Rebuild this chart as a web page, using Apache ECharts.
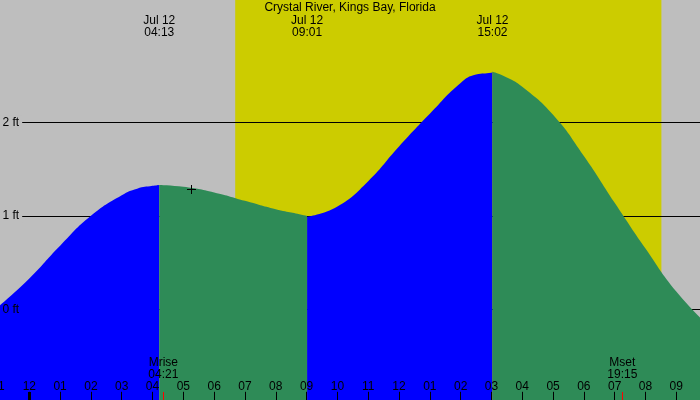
<!DOCTYPE html>
<html>
<head>
<meta charset="utf-8">
<script src="https://cdn.jsdelivr.net/npm/echarts@6/dist/echarts.min.js"></script>
<style>
  html, body { margin: 0; padding: 0; background: #bebebe; }
  #chart-container { width: 700px; height: 400px; }
</style>
</head>
<body>
<div id="chart-container"></div>
<script>
var title = 'Crystal River, Kings Bay, Florida';
var eventDate = 'Jul 12';

// tide heights (ft), hour -1 = 11 pm the day before
var tideHours = [-1, 0, 1, 2, 3, 3.5, 4, 5, 6, 7, 8, 9, 10, 11, 12, 13, 14, 14.5, 15, 15.5, 16, 17, 18, 19, 20, 21, 22];
var tideFeet = [0.03, 0.33, 0.68, 1.00, 1.22, 1.29, 1.32, 1.31, 1.25, 1.16, 1.07, 1.00, 1.10,
                1.37, 1.74, 2.09, 2.42, 2.51, 2.53, 2.48, 2.38, 2.08, 1.64, 1.14, 0.65, 0.19, -0.16];

// high / low water
var extremeTimes = ['04:13', '09:01', '15:02'];
var extremeFeet = [1.33, 0.99, 2.54];

var sunTimes = ['06:41', '20:31'];
var moonNames = ['Mrise', 'Mset'];
var moonTimes = ['04:21', '19:15'];

var nowTime = '05:15';
var nowFeet = 1.29;

var hourLabels = ['11', '12', '01', '02', '03', '04', '05', '06', '07', '08', '09', '10',
                  '11', '12', '01', '02', '03', '04', '05', '06', '07', '08', '09', '10'];
var feetLines = [0, 1, 2];

var FONT = '"Liberation Sans", Arial, sans-serif';

function toHours(s) {
  var p = s.split(':');
  return +p[0] + p[1] / 60;
}

// merge the read points with the extremes, then cut into rising / falling pieces
var pts = tideHours.map(function (h, i) { return [h, tideFeet[i]]; });
var extremeHours = extremeTimes.map(toHours);
extremeHours.forEach(function (h, i) { pts.push([h, extremeFeet[i], true]); });
pts.sort(function (a, b) { return a[0] - b[0]; });

var segments = [];
var cur = [];
pts.forEach(function (p) {
  cur.push([p[0], p[1]]);
  if (p[2]) {
    segments.push(cur);
    cur = [[p[0], p[1]]];
  }
});
segments.push(cur);

var tideSeries = segments.map(function (seg) {
  var rising = seg[seg.length - 1][1] > seg[0][1];
  var col = rising ? '#0000ff' : '#2e8b57';
  return {
    type: 'line',
    z: 2,
    data: seg,
    smooth: 0.5,
    symbol: 'none',
    lineStyle: { width: 0, color: col },
    areaStyle: { color: col, opacity: 1, origin: 'start' },
    silent: true
  };
});

var chartDom = document.getElementById('chart-container');
var myChart = echarts.init(chartDom);

option = {
  backgroundColor: '#bebebe',
  animation: false,
  title: {
    text: title,
    left: 'center',
    top: 2,
    padding: 0,
    textStyle: { fontSize: 12, fontWeight: 'normal', color: '#000', fontFamily: FONT }
  },
  grid: { left: -1.5, right: -7.1, top: -18, bottom: -2.8, outerBoundsMode: 'none', containLabel: false },
  xAxis: {
    type: 'value',
    min: -1,
    max: 22,
    interval: 1,
    z: 5,
    axisLine: { show: false, onZero: false },
    splitLine: { show: false },
    axisTick: { show: true, inside: true, length: 11, lineStyle: { color: '#000', width: 1 } },
    axisLabel: {
      inside: true,
      margin: 10,
      color: '#000',
      fontSize: 12,
      fontFamily: FONT,
      showMinLabel: true,
      showMaxLabel: true,
      hideOverlap: false,
      formatter: function (v) { return hourLabels[v + 1]; }
    }
  },
  yAxis: {
    type: 'value',
    min: -1,
    max: 3.5,
    interval: 1,
    z: 5,
    axisLine: { show: false, onZero: false },
    axisTick: { show: false },
    splitLine: { show: false },
    axisLabel: {
      inside: true,
      margin: 0,
      formatter: function (v) {
        if (feetLines.indexOf(v) < 0) return '';
        return (v === 0 ? '{n|' : '{g|') + v + ' ft}';
      },
      rich: {
        g: { backgroundColor: '#bebebe', padding: [1, 3, 1, 4], color: '#000', fontSize: 12, fontFamily: FONT },
        n: { padding: [1, 3, 1, 4], color: '#000', fontSize: 12, fontFamily: FONT }
      }
    }
  },
  series: [
    {
      // daylight band and the feet lines, both under the tide fill
      type: 'line',
      z: 0,
      data: [],
      markArea: {
        silent: true,
        z: 0,
        itemStyle: { color: '#cccc00', opacity: 1 },
        data: [[{ xAxis: toHours(sunTimes[0]) }, { xAxis: toHours(sunTimes[1]) }]]
      },
      markLine: {
        silent: true,
        z: 1,
        symbol: 'none',
        label: { show: false },
        lineStyle: { color: '#000', width: 1, type: 'solid' },
        data: feetLines.map(function (v) { return { yAxis: v }; })
      }
    }
  ].concat(tideSeries).concat([
    {
      // high / low labels along the top
      type: 'custom',
      z: 6,
      silent: true,
      data: extremeHours.map(function (h) { return [h, 0]; }),
      renderItem: function (params, api) {
        var x = api.coord([api.value(0), 0])[0];
        return {
          type: 'text',
          style: {
            text: eventDate + '\n' + extremeTimes[params.dataIndex],
            x: x, y: 26.5,
            align: 'center', verticalAlign: 'middle',
            fill: '#000', font: '12px ' + FONT, lineHeight: 12
          }
        };
      }
    },
    {
      // moon rise / set labels and red ticks
      type: 'custom',
      z: 6,
      silent: true,
      data: moonTimes.map(function (t) { return [toHours(t), 0]; }),
      renderItem: function (params, api) {
        var x = api.coord([api.value(0), 0])[0];
        return {
          type: 'group',
          children: [
            {
              type: 'text',
              style: {
                text: moonNames[params.dataIndex] + '\n' + moonTimes[params.dataIndex],
                x: x, y: 369,
                align: 'center', verticalAlign: 'middle',
                fill: '#000', font: '12px ' + FONT, lineHeight: 12
              }
            },
            {
              type: 'rect',
              shape: { x: Math.round(x), y: 392, width: 1, height: 8 },
              style: { fill: '#ff0000' }
            }
          ]
        };
      }
    },
    {
      // midnight tick and current-time cross
      type: 'custom',
      z: 6,
      silent: true,
      data: [[toHours(nowTime), nowFeet]],
      renderItem: function (params, api) {
        var mid = api.coord([0, 0])[0];
        var p = api.coord([api.value(0), api.value(1)]);
        var cx = Math.round(p[0]), cy = Math.round(p[1]);
        return {
          type: 'group',
          children: [
            { type: 'rect', shape: { x: Math.round(mid) - 1, y: 392, width: 3, height: 8 }, style: { fill: '#000' } },
            { type: 'rect', shape: { x: cx - 4, y: cy, width: 9, height: 1 }, style: { fill: '#000' } },
            { type: 'rect', shape: { x: cx, y: cy - 4, width: 1, height: 9 }, style: { fill: '#000' } }
          ]
        };
      }
    }
  ])
};

option && myChart.setOption(option);
</script>
</body>
</html>
